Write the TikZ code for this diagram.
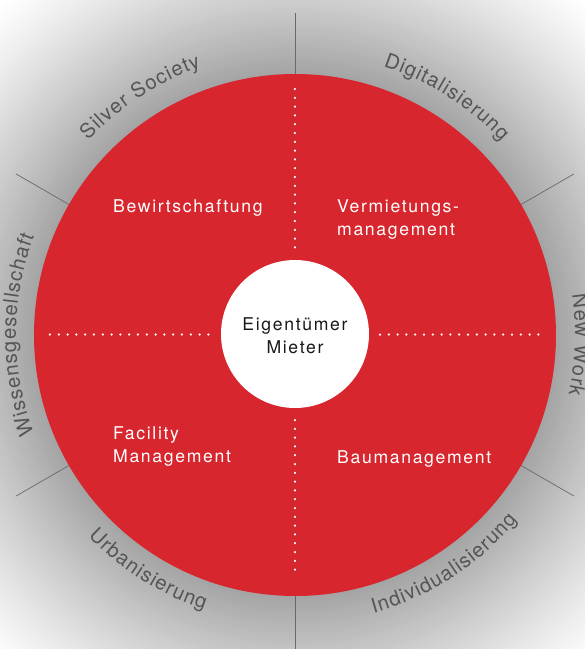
\documentclass[tikz,border=0pt]{standalone}
\usepackage{fontspec}
\setmainfont{TeX Gyre Heros}[LetterSpace=9.5]
\newfontfamily\outerfam{TeX Gyre Heros}
\usetikzlibrary{decorations.text}
\definecolor{cred}{RGB}{216,38,46}
\definecolor{clab}{RGB}{85,85,85}
\definecolor{cline}{RGB}{105,105,105}
\definecolor{ctext}{RGB}{25,25,25}
\newcommand\innerfont{\fontsize{17.6pt}{23pt}\selectfont}
\newcommand\outerfont{\outerfam\fontsize{20.3pt}{22pt}\selectfont}
\tikzset{
  inlabel/.style={inner sep=0pt, text=white, font=\innerfont, anchor=base west},
  ctrlabel/.style={inner sep=0pt, text=ctext, font=\innerfont, anchor=base},
  raydiv/.style={cline, line width=0.7pt},
  dotline/.style={white, line width=2.5pt, line cap=round, dash pattern=on 0pt off 8.8pt},
  arctext/.style={decorate, decoration={text effects along path, text={#1}, text align=center,
     text effects/.cd, text along path,
     characters={font=\outerfont, text=clab, inner xsep=0.5pt, inner ysep=0pt},
     character widths={font=\outerfont, inner xsep=0.5pt, inner ysep=0pt}}}
}
\begin{document}
\begin{tikzpicture}[x=1pt,y=1pt]
\useasboundingbox (-295,-314) rectangle (290,335);
\clip (-295,-314) rectangle (290,335);
\fill[white] (-295,-314) rectangle (290,335);
% background radial fade
\foreach \r in {444,441,...,258}{
  \pgfmathsetmacro\p{36*((445-\r)/184)^1.2}
  \fill[black!\p] (0,0) circle (\r);
}
% rays
\foreach \a in {90,30,-30,-90,-150,150}
  \draw[raydiv] (\a:261) -- (\a:322);
% red disc
\fill[cred] (0,0) circle (261);
% dotted dividers
\draw[dotline] (0,246) -- (0,87);
\draw[dotline] (0,-85) -- (0,-242);
\draw[dotline] (-245,0.5) -- (-81,0.5);
\draw[dotline] (85,0.5) -- (246,0.5);
% centre
\fill[white] (0,1) circle (74);
\node[ctrlabel] (c1) at (0,5) {Eigentümer};
\node[ctrlabel] (c2) at (0,-18) {Mieter};
% quadrant labels
\node[inlabel] (q1) at (-182,123) {Bewirtschaftung};
\node[inlabel] (q2a) at (42,123) {Vermietungs-};
\node[inlabel] (q2b) at (42,100) {management};
\node[inlabel] (q3a) at (-182,-104) {Facility};
\node[inlabel] (q3b) at (-182,-127.5) {Management};
\node[inlabel] (q4) at (42,-128) {Baumanagement};
% outer curved labels
\path[arctext={Silver Society}] (163:284) arc[start angle=163, end angle=83, radius=284];
\path[arctext={Digitalisierung}] (97.5:283) arc[start angle=97.5, end angle=17.5, radius=283];
\path[arctext={New Work}] (38:280) arc[start angle=38, end angle=-42, radius=280];
\path[arctext={Wissensgesellschaft}] (220:279) arc[start angle=220, end angle=140, radius=279];
\path[arctext={Urbanisierung}] (198:289) arc[start angle=198, end angle=278, radius=289];
\path[arctext={Individualisierung}] (-97:289) arc[start angle=-97, end angle=-17, radius=289];
\end{tikzpicture}
\end{document}
